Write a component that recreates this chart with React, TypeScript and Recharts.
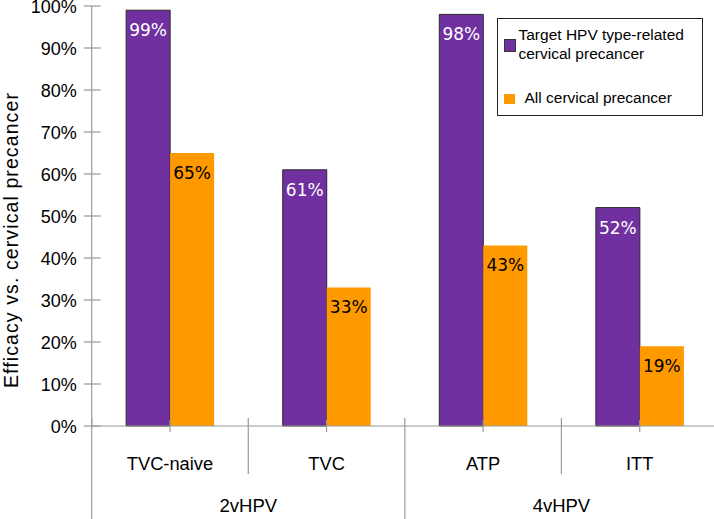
import { BarChart, Bar, XAxis, YAxis, Legend, LabelList } from 'recharts'

const CATEGORIES = ['TVC-naive', 'TVC', 'ATP', 'ITT']
const GROUP_OF = ['2vHPV', '2vHPV', '4vHPV', '4vHPV']
const TARGET_HPV = [99, 61, 98, 52]
const ALL_PRECANCER = [65, 33, 43, 19]
const Y_TICKS = [0, 10, 20, 30, 40, 50, 60, 70, 80, 90, 100]
const SERIES_NAMES = ['Target HPV type-related cervical precancer', 'All cervical precancer']

const data = CATEGORIES.map((cat, i) => ({
  cat,
  group: GROUP_OF[i],
  target: TARGET_HPV[i],
  all: ALL_PRECANCER[i],
}))

const PURPLE = '#7030A0'
const ORANGE = '#FF9900'
const AXIS = '#999999'
const SANS = '"Liberation Sans", Arial, Helvetica, sans-serif'
const W = 714
const H = 519

function YTick(props: any) {
  const { x, y, payload } = props
  return (
    <g>
      <line x1={x - 8} x2={x + 9} y1={y} y2={y} stroke={AXIS} strokeWidth={1.2} />
      <text x={x - 15} y={y + 7} textAnchor="end" fontFamily={SANS} fontSize={18} fill="#000">
        {`${payload.value}%`}
      </text>
    </g>
  )
}

function CategoryTick(props: any) {
  const { x, y, payload, index } = props
  const half = payload.offset || 78.3
  const n = CATEGORIES.length
  const grp = GROUP_OF[index]
  const groupStart = index === 0 || GROUP_OF[index - 1] !== grp
  const groupEnd = index === n - 1 || GROUP_OF[index + 1] !== grp
  let size = 0
  if (groupStart) {
    for (let j = index; j < n && GROUP_OF[j] === grp; j++) size++
  }
  return (
    <g>
      <line x1={x} x2={x} y1={y - 6} y2={y + 6} stroke={AXIS} strokeWidth={1.2} />
      <text x={x} y={y + 44} textAnchor="middle" fontFamily={SANS} fontSize={18.3} fill="#000">
        {payload.value}
      </text>
      {groupStart && (
        <line x1={x - half} x2={x - half} y1={y - 8} y2={H} stroke={AXIS} strokeWidth={1.2} />
      )}
      {!groupEnd && (
        <line x1={x + half} x2={x + half} y1={y - 8} y2={y + 48} stroke={AXIS} strokeWidth={1.2} />
      )}
      {groupStart && (
        <text
          x={x - half + size * half}
          y={y + 86}
          textAnchor="middle"
          fontFamily={SANS}
          fontSize={18.5}
          fill="#000"
        >
          {grp}
        </text>
      )}
    </g>
  )
}

function LegendBox() {
  return (
    <div
      style={{
        position: 'relative',
        width: 204,
        height: 96,
        border: '1.5px solid #222',
        background: '#fff',
        fontFamily: SANS,
        fontSize: 15.5,
        lineHeight: '19px',
        color: '#000',
      }}
    >
      <div
        style={{
          position: 'absolute',
          left: 5.5,
          top: 19.5,
          width: 10,
          height: 11,
          background: PURPLE,
          border: '1px solid #333',
        }}
      />
      <div style={{ position: 'absolute', left: 20.5, top: 5.5, whiteSpace: 'nowrap' }}>
        Target HPV type-related
        <br />
        cervical precancer
      </div>
      <div
        style={{ position: 'absolute', left: 5.5, top: 74.5, width: 11, height: 10, background: ORANGE }}
      />
      <div style={{ position: 'absolute', left: 26.5, top: 68.5, whiteSpace: 'nowrap' }}>
        {SERIES_NAMES[1]}
      </div>
    </div>
  )
}

export default function App() {
  return (
    <div style={{ position: 'fixed', left: 0, top: 0, width: W, height: H, background: '#fff' }}>
      <BarChart
        width={W}
        height={H}
        data={data}
        margin={{ top: 6, right: -4, left: 0, bottom: 0 }}
        barCategoryGap="22%"
        barGap={0}
      >
        <XAxis
          dataKey="cat"
          height={93}
          axisLine={{ stroke: AXIS, strokeWidth: 1.2 }}
          tickLine={false}
          tickSize={0}
          tickMargin={0}
          interval={0}
          tick={<CategoryTick />}
        />
        <YAxis
          width={91.7}
          domain={[0, 100]}
          ticks={Y_TICKS}
          interval={0}
          axisLine={{ stroke: AXIS, strokeWidth: 1.2 }}
          tickLine={false}
          tickSize={0}
          tickMargin={0}
          tick={<YTick />}
          label={{
            content: () => (
              <text
                transform="translate(18, 240) rotate(-90)"
                textAnchor="middle"
                fontFamily={SANS}
                fontSize={19.5}
                letterSpacing={1.1}
                fill="#000"
              >
                Efficacy vs. cervical precancer
              </text>
            ),
          }}
        />
        <Legend
          layout="vertical"
          align="center"
          verticalAlign="middle"
          wrapperStyle={{ left: 497, top: 18, width: 207 }}
          content={() => <LegendBox />}
        />
        <Bar
          dataKey="target"
          name={SERIES_NAMES[0]}
          fill={PURPLE}
          stroke="#2a2a2a"
          strokeWidth={1}
          isAnimationActive={false}
        >
          <LabelList
            dataKey="target"
            position="insideTop"
            offset={14}
            formatter={(v: any) => `${v}%`}
            fill="#ffffff"
            style={{ fontFamily: '"DejaVu Sans", Verdana, sans-serif', fontSize: 17 }}
          />
        </Bar>
        <Bar dataKey="all" name={SERIES_NAMES[1]} fill={ORANGE} isAnimationActive={false}>
          <LabelList
            dataKey="all"
            position="insideTop"
            offset={14}
            formatter={(v: any) => `${v}%`}
            fill="#000000"
            style={{ fontFamily: '"DejaVu Sans", Verdana, sans-serif', fontSize: 17 }}
          />
        </Bar>
      </BarChart>
    </div>
  )
}
